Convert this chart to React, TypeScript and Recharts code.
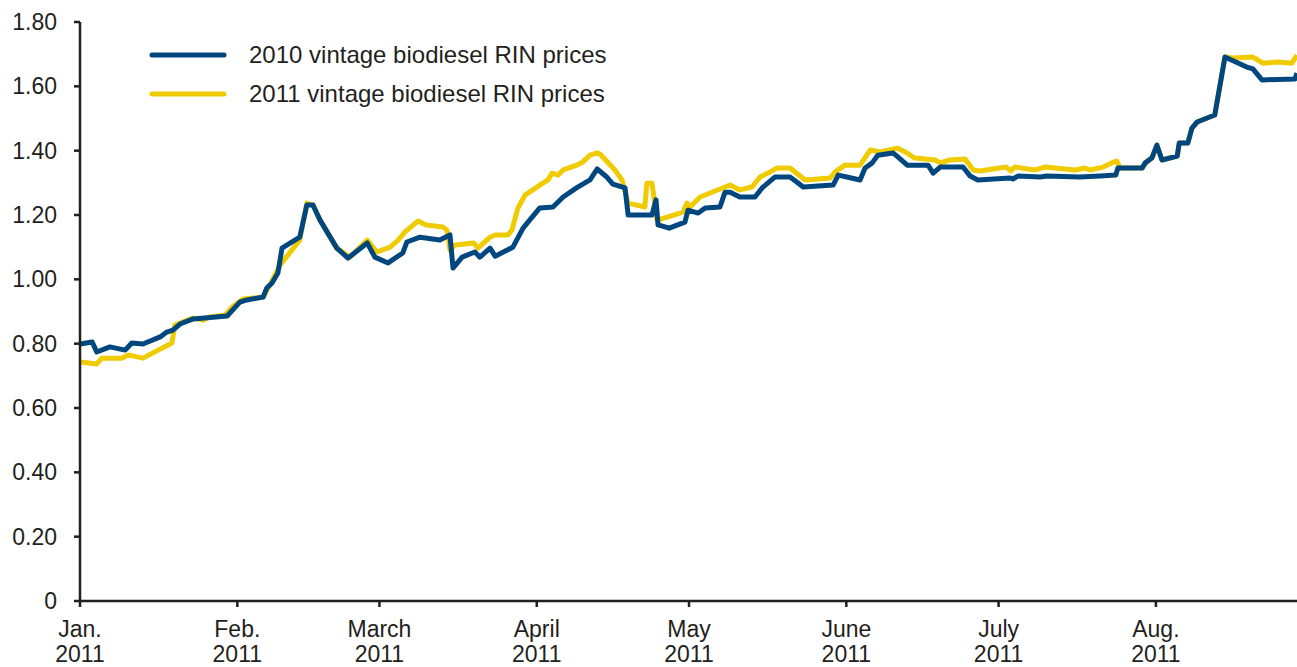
import React from "react";
import { LineChart, Line, XAxis, YAxis } from "recharts";

// day index counted from Jan. 1, 2011
const days2010 = [
  0, 2.4, 3.3, 5.9, 8.9, 10.2, 12.4, 15.8, 17.1, 18.3, 19.7, 22.3, 29.0, 31.5, 32.9, 36.1, 36.8, 37.8,
  39.0, 39.8, 43.3, 44.7, 45.9, 47.3, 50.6, 52.8, 56.6, 58.1, 60.7, 63.6, 64.4, 67.0, 70.9, 72.9, 73.5,
  75.3, 77.8, 78.8, 80.8, 81.8, 85.3, 87.3, 90.6, 93.2, 95.2, 97.9, 100.5, 101.9, 103.8, 105.0, 107.4,
  108.0, 112.7, 113.5, 113.9, 116.1, 119.2, 119.8, 121.8, 123.2, 126.1, 127.1, 128.1, 130.0, 133.0,
  134.4, 136.9, 139.9, 141.3, 142.5, 148.4, 149.4, 151.1, 153.7, 154.7, 156.1, 157.2, 160.2, 161.2,
  163.0, 167.1, 168.1, 169.5, 174.0, 175.4, 176.9, 183.3, 183.8, 184.8, 189.2, 190.5, 197.0, 201.0,
  204.1, 204.5, 209.3, 209.9, 211.2, 212.2, 213.2, 216.2, 216.6, 218.3, 219.1, 220.1, 223.6, 225.6,
  229.9, 231.1, 232.9, 239.4, 239.8,
];
const prices2010 = [
  0.799, 0.805, 0.774, 0.79, 0.78, 0.802, 0.799, 0.821, 0.836, 0.842, 0.861, 0.877, 0.886, 0.929, 0.936,
  0.945, 0.973, 0.988, 1.02, 1.097, 1.131, 1.231, 1.231, 1.184, 1.097, 1.066, 1.113, 1.069, 1.051, 1.082,
  1.116, 1.131, 1.122, 1.138, 1.035, 1.069, 1.085, 1.069, 1.097, 1.072, 1.1, 1.159, 1.222, 1.225, 1.256,
  1.285, 1.309, 1.343, 1.318, 1.296, 1.284, 1.2, 1.2, 1.247, 1.169, 1.159, 1.178, 1.215, 1.206, 1.222,
  1.225, 1.271, 1.271, 1.256, 1.256, 1.284, 1.318, 1.318, 1.302, 1.287, 1.293, 1.324, 1.318, 1.309,
  1.346, 1.362, 1.386, 1.393, 1.38, 1.355, 1.355, 1.33, 1.349, 1.349, 1.321, 1.309, 1.315, 1.312, 1.321,
  1.318, 1.321, 1.318, 1.321, 1.324, 1.346, 1.346, 1.362, 1.377, 1.417, 1.371, 1.383, 1.424, 1.424, 1.47,
  1.489, 1.511, 1.691, 1.66, 1.654, 1.62, 1.623, 1.641,
];

const days2011 = [
  0, 3.3, 4.3, 8.3, 9.5, 12.4, 18.1, 18.7, 22.3, 24.2, 25.6, 28.6, 30.0, 32.1, 36.1, 37.4, 39.4, 41.0,
  43.3, 44.7, 45.9, 47.3, 50.6, 53.2, 56.6, 58.5, 61.1, 62.7, 64.0, 66.6, 68.2, 71.5, 72.3, 72.9, 73.9,
  77.6, 78.4, 80.8, 81.8, 84.3, 85.1, 86.3, 87.7, 90.6, 92.2, 93.0, 94.2, 95.2, 97.9, 99.1, 100.5, 101.9,
  102.5, 105.4, 106.8, 108.0, 111.3, 111.7, 112.7, 113.7, 115.9, 118.8, 119.6, 120.2, 122.2, 127.1,
  128.1, 130.0, 132.4, 134.0, 136.0, 137.3, 139.9, 142.9, 147.8, 148.8, 150.7, 153.7, 155.7, 157.6,
  161.0, 162.6, 164.5, 168.5, 169.5, 171.4, 174.4, 176.0, 177.3, 182.5, 183.4, 184.2, 188.2, 190.1,
  192.1, 196.1, 198.0, 199.0, 201.6, 203.3, 204.3, 204.9, 209.3, 209.9, 211.2, 212.2, 213.2, 216.2,
  216.6, 218.3, 219.1, 220.1, 223.6, 225.6, 227.2, 231.1, 233.1, 236.1, 238.8, 239.8,
];
const prices2011 = [
  0.743, 0.737, 0.755, 0.755, 0.765, 0.755, 0.802, 0.858, 0.88, 0.873, 0.883, 0.889, 0.914, 0.939, 0.945,
  0.982, 1.044, 1.076, 1.122, 1.237, 1.231, 1.184, 1.097, 1.069, 1.122, 1.085, 1.1, 1.122, 1.147, 1.181,
  1.169, 1.163, 1.153, 1.091, 1.107, 1.113, 1.097, 1.131, 1.138, 1.138, 1.153, 1.222, 1.262, 1.293,
  1.309, 1.33, 1.324, 1.34, 1.355, 1.365, 1.386, 1.393, 1.389, 1.34, 1.309, 1.237, 1.225, 1.299, 1.299,
  1.184, 1.194, 1.209, 1.237, 1.225, 1.256, 1.287, 1.293, 1.278, 1.287, 1.318, 1.334, 1.346, 1.346,
  1.309, 1.315, 1.334, 1.355, 1.355, 1.402, 1.396, 1.408, 1.396, 1.377, 1.371, 1.362, 1.371, 1.374,
  1.34, 1.337, 1.349, 1.337, 1.349, 1.34, 1.349, 1.346, 1.34, 1.346, 1.34, 1.349, 1.362, 1.368, 1.346,
  1.346, 1.362, 1.377, 1.417, 1.371, 1.383, 1.424, 1.424, 1.47, 1.489, 1.511, 1.691, 1.688, 1.691,
  1.672, 1.676, 1.672, 1.697,
];

const monthTickDays = [0, 31, 59, 90, 120, 151, 181, 212];
const monthLabels = ["Jan.", "Feb.", "March", "April", "May", "June", "July", "Aug."];
const priceTicks = [0, 0.2, 0.4, 0.6, 0.8, 1.0, 1.2, 1.4, 1.6, 1.8];

const seriesNames = ["2010 vintage biodiesel RIN prices", "2011 vintage biodiesel RIN prices"];

const BLUE = "#00477f";
const YELLOW = "#f0cb00";
const INK = "#231f20";
const FONT = "'Liberation Sans', Arial, sans-serif";

const data2010 = days2010.map((d, i) => ({ day: d, price: prices2010[i] }));
const data2011 = days2011.map((d, i) => ({ day: d, price: prices2011[i] }));

const MonthTick = ({ x, y, payload }: any) => {
  const i = monthTickDays.indexOf(payload.value);
  return (
    <g>
      <text x={x} y={y + 30} textAnchor="middle" fill={INK} fontSize={23} fontFamily={FONT}>
        {monthLabels[i]}
      </text>
      <text x={x} y={y + 55} textAnchor="middle" fill={INK} fontSize={23} fontFamily={FONT}>
        2011
      </text>
    </g>
  );
};

// legend sits on top of the plot, so it is drawn as an overlay
const LegendBox = () => {
  const items = [
    { name: seriesNames[0], color: BLUE },
    { name: seriesNames[1], color: YELLOW },
  ];
  return (
    <div
      style={{ position: "absolute", left: 148, top: 35, fontFamily: FONT, fontSize: 24, color: INK, whiteSpace: "nowrap" }}
    >
      {items.map((it) => (
        <div key={it.name} style={{ display: "flex", alignItems: "center", height: 39 }}>
          <svg width={80} height={10} style={{ marginRight: 21 }}>
            <line x1={4} y1={5} x2={76} y2={5} stroke={it.color} strokeWidth={5} strokeLinecap="round" />
          </svg>
          <span>{it.name}</span>
        </div>
      ))}
    </div>
  );
};

export default function App() {
  return (
    <div style={{ position: "absolute", left: 0, top: 0, width: 1297, height: 667, background: "#fff" }}>
      <LineChart width={1297} height={667} margin={{ top: 22, right: 0, left: 0, bottom: 0 }}>
        <XAxis
          dataKey="day"
          type="number"
          domain={[0, 239.8]}
          ticks={monthTickDays}
          interval={0}
          height={66}
          tickSize={6}
          tickMargin={0}
          axisLine={{ stroke: INK, strokeWidth: 2.5 }}
          tickLine={{ stroke: INK, strokeWidth: 2.5 }}
          tick={<MonthTick />}
          allowDataOverflow
        />
        <YAxis
          type="number"
          domain={[0, 1.8]}
          ticks={priceTicks}
          interval={0}
          width={80}
          tickSize={6}
          tickMargin={17}
          axisLine={{ stroke: INK, strokeWidth: 2.5 }}
          tickLine={{ stroke: INK, strokeWidth: 2.5 }}
          tick={{ fill: INK, fontSize: 23, fontFamily: FONT }}
          tickFormatter={(v: number) => (v === 0 ? "0" : v.toFixed(2))}
        />
        <Line
          data={data2011}
          dataKey="price"
          name={seriesNames[1]}
          type="linear"
          stroke={YELLOW}
          strokeWidth={5}
          strokeLinejoin="round"
          dot={false}
          activeDot={false}
          isAnimationActive={false}
        />
        <Line
          data={data2010}
          dataKey="price"
          name={seriesNames[0]}
          type="linear"
          stroke={BLUE}
          strokeWidth={5}
          strokeLinejoin="round"
          dot={false}
          activeDot={false}
          isAnimationActive={false}
        />
      </LineChart>
      <LegendBox />
    </div>
  );
}
